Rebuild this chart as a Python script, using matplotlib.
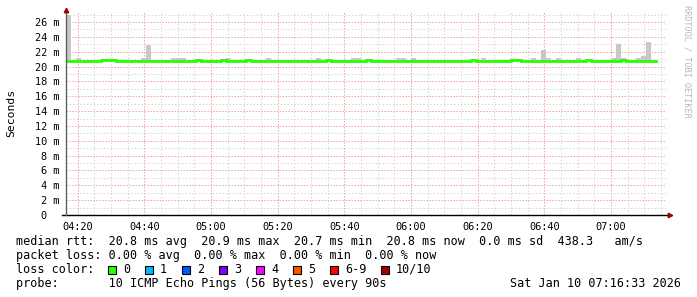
import matplotlib
matplotlib.use('Agg')
import matplotlib.pyplot as plt
import matplotlib.dates as mdates
from matplotlib.ticker import MultipleLocator, FuncFormatter
from matplotlib.patches import Rectangle
import numpy as np
import pandas as pd

W, H = 697, 297

# 90 s steps, 04:16:30 .. 07:13:30
START = '2026-01-10 04:16:30'
STEP_S = 90

median_ms = [
    20.7, 20.8, 20.8, 20.7, 20.7, 20.8, 20.8, 20.9, 20.9, 20.9,
    20.7, 20.8, 20.8, 20.8, 20.8, 20.8, 20.8, 20.8, 20.8, 20.8,
    20.8, 20.7, 20.7, 20.8, 20.8, 20.8, 20.9, 20.8, 20.8, 20.8,
    20.8, 20.9, 20.7, 20.8, 20.8, 20.8, 20.9, 20.8, 20.8, 20.8,
    20.8, 20.8, 20.8, 20.8, 20.8, 20.8, 20.8, 20.7, 20.7, 20.8,
    20.8, 20.8, 20.9, 20.8, 20.8, 20.8, 20.8, 20.8, 20.7, 20.8,
    20.9, 20.8, 20.7, 20.7, 20.8, 20.8, 20.8, 20.8, 20.8, 20.8,
    20.8, 20.7, 20.7, 20.8, 20.8, 20.8, 20.8, 20.8, 20.8, 20.7,
    20.7, 20.9, 20.8, 20.8, 20.8, 20.8, 20.8, 20.8, 20.8, 20.9,
    20.9, 20.8, 20.7, 20.8, 20.8, 20.8, 20.8, 20.8, 20.8, 20.7,
    20.7, 20.8, 20.8, 20.8, 20.9, 20.7, 20.8, 20.8, 20.8, 20.8,
    20.8, 20.9, 20.8, 20.7, 20.7, 20.8, 20.7, 20.7,
]

smoke_hi = [
    27.0, 20.95, 21.1, 20.95, 20.95, 20.95, 20.95, 21.0, 21.0, 21.0,
    20.95, 20.95, 20.95, 20.95, 20.95, 21.1, 22.9, 20.95, 20.95, 20.95,
    20.95, 21.1, 21.1, 21.1, 20.95, 20.95, 21.0, 20.95, 20.95, 20.95,
    20.95, 21.0, 21.1, 20.95, 20.95, 20.95, 21.0, 20.95, 20.95, 20.95,
    21.1, 20.95, 20.95, 20.95, 20.95, 20.95, 20.95, 20.95, 20.95, 20.95,
    21.1, 20.95, 21.0, 20.95, 20.95, 20.95, 20.95, 21.1, 21.1, 20.95,
    21.0, 20.95, 20.95, 20.95, 20.95, 20.95, 21.1, 21.1, 20.95, 21.1,
    20.95, 20.95, 20.95, 20.95, 20.95, 20.95, 20.95, 20.95, 20.95, 20.95,
    20.95, 21.0, 20.95, 21.1, 20.95, 20.95, 20.95, 20.95, 20.95, 21.0,
    21.0, 20.95, 20.95, 21.15, 20.95, 22.2, 21.1, 20.95, 21.1, 20.95,
    20.95, 20.95, 21.1, 20.95, 21.0, 20.95, 20.95, 20.95, 20.95, 21.1,
    23.0, 21.15, 20.95, 20.95, 21.1, 21.4, 23.3, 20.95,
]

smoke_lo = [
    20.6, 20.7, 20.7, 20.55, 20.55, 20.7, 20.7, 20.75, 20.75, 20.75,
    20.6, 20.65, 20.65, 20.65, 20.65, 20.65, 20.65, 20.65, 20.65, 20.65,
    20.65, 20.55, 20.5, 20.55, 20.65, 20.65, 20.7, 20.65, 20.65, 20.65,
    20.65, 20.7, 20.6, 20.65, 20.65, 20.65, 20.7, 20.65, 20.65, 20.65,
    20.65, 20.65, 20.65, 20.65, 20.65, 20.65, 20.65, 20.6, 20.6, 20.65,
    20.65, 20.65, 20.7, 20.65, 20.65, 20.65, 20.65, 20.55, 20.55, 20.65,
    20.7, 20.65, 20.6, 20.6, 20.65, 20.65, 20.65, 20.65, 20.65, 20.65,
    20.65, 20.6, 20.6, 20.65, 20.65, 20.65, 20.65, 20.65, 20.65, 20.6,
    20.6, 20.7, 20.65, 20.65, 20.65, 20.65, 20.65, 20.65, 20.65, 20.7,
    20.7, 20.65, 20.55, 20.65, 20.65, 20.65, 20.65, 20.65, 20.65, 20.6,
    20.6, 20.65, 20.65, 20.65, 20.7, 20.6, 20.65, 20.65, 20.65, 20.65,
    20.65, 20.7, 20.65, 20.6, 20.6, 20.65, 20.6, 20.6,
]

legend_rows = [
    'median rtt:  20.8 ms avg  20.9 ms max  20.7 ms min  20.8 ms now  0.0 ms sd  438.3   am/s',
    'packet loss: 0.00 % avg  0.00 % max  0.00 % min  0.00 % now',
]
loss_labels = ['0', '1', '2', '3', '4', '5', '6-9', '10/10']
loss_colors = ['#26ff00', '#00b8ff', '#0059ff', '#7e00ff', '#ff00ff',
               '#ff5500', '#ff0000', '#a10000']
probe_text = 'probe:       10 ICMP Echo Pings (56 Bytes) every 90s'
stamp_text = 'Sat Jan 10 07:16:33 2026'

MONO = 'DejaVu Sans Mono'


def fx(x):
    return x / W


def fy(y):
    return 1 - y / H


fig = plt.figure(figsize=(W / 100, H / 100), dpi=100)
fig.patch.set_facecolor('white')

# plot area 66..666 px, 12..215 px
ax = fig.add_axes([fx(66), fy(215), 600 / W, 203 / H])
ax.set_facecolor('white')

times = pd.date_range(START, periods=len(median_ms), freq=f'{STEP_S}s')
t_num = mdates.date2num(times.to_pydatetime())
step_d = STEP_S / 86400.0

lo = np.array(smoke_lo)
hi = np.array(smoke_hi)
ax.bar(t_num, hi - lo, bottom=lo, width=step_d, align='edge',
       color='#c8c8c8', linewidth=0, zorder=2)

t_edges = np.append(t_num, t_num[-1] + step_d)
med = np.append(median_ms, median_ms[-1])
ax.step(t_edges, med, where='post', color=loss_colors[0], lw=2.0,
        solid_joinstyle='miter', zorder=3)

t_left = mdates.date2num(pd.Timestamp(START).to_pydatetime())
ax.set_xlim(t_left, t_left + 3 * 3600 / 86400.0)
ax.set_ylim(0, 27.35)

ax.xaxis.set_major_locator(mdates.MinuteLocator(byminute=[0, 20, 40]))
ax.xaxis.set_minor_locator(mdates.MinuteLocator(byminute=range(0, 60, 5)))
ax.xaxis.set_major_formatter(mdates.DateFormatter('%H:%M'))
ax.yaxis.set_major_locator(MultipleLocator(2))
ax.yaxis.set_minor_locator(MultipleLocator(1))
ax.yaxis.set_major_formatter(FuncFormatter(
    lambda v, p: '0  ' if v == 0 else f'{v:.0f} m'))

ax.grid(which='minor', color='#d4d4d4', linestyle=(0, (1.4, 2.0)), lw=0.72)
ax.grid(which='major', color='#f2a0a0', linestyle=(0, (1.4, 1.6)), lw=0.72)
ax.set_axisbelow(True)

ax.tick_params(which='both', length=0)
ax.tick_params(axis='x', pad=5, labelsize=7.4)
ax.tick_params(axis='y', pad=5, labelsize=7.4)
for lab in ax.get_xticklabels() + ax.get_yticklabels():
    lab.set_family(MONO)

for s in ax.spines.values():
    s.set_visible(False)

# axes lines with arrows, rrdtool style
ax.plot([-0.007, 1.006], [0, 0], transform=ax.transAxes, color='#000000',
        lw=1.0, clip_on=False, zorder=5)
ax.plot([0, 0], [0, 1.0], transform=ax.transAxes, color='#606060',
        lw=1.0, clip_on=False, zorder=5)
ax.plot([1.007], [0], transform=ax.transAxes, marker='>', ms=3.2,
        color='#990000', clip_on=False, zorder=6)
ax.plot([0], [1.008], transform=ax.transAxes, marker='^', ms=3.2,
        color='#990000', clip_on=False, zorder=6)

fig.text(fx(11), fy(113), 'Seconds', rotation=90, ha='center', va='center',
         family=MONO, fontsize=8.2)
fig.text(fx(687), fy(5), 'RRDTOOL / TOBI OETIKER', rotation=270,
         ha='center', va='top', family=MONO, fontsize=6.1, color='#b8b8b8')

# legend
fs = 8.5
fig.text(fx(16), fy(241.5), legend_rows[0], family=MONO, fontsize=fs,
         va='center', ha='left')
fig.text(fx(16), fy(255.5), legend_rows[1], family=MONO, fontsize=fs,
         va='center', ha='left')
fig.text(fx(16), fy(269.5), 'loss color:', family=MONO, fontsize=fs,
         va='center', ha='left')
bx = 108
for lab, col in zip(loss_labels, loss_colors):
    fig.patches.append(Rectangle((fx(bx), fy(273.5)), 8 / W, 8 / H,
                                 transform=fig.transFigure,
                                 facecolor=col, edgecolor='black', lw=0.8))
    fig.text(fx(bx + 15), fy(269.5), lab, family=MONO, fontsize=fs,
             va='center', ha='left')
    bx = bx + 15 + 7 * len(lab) + 15
fig.text(fx(16), fy(283.5), probe_text, family=MONO, fontsize=fs,
         va='center', ha='left')
fig.text(fx(681), fy(283.5), stamp_text, family=MONO, fontsize=fs,
         va='center', ha='right')

fig.savefig('out.png', dpi=100, facecolor='white')
